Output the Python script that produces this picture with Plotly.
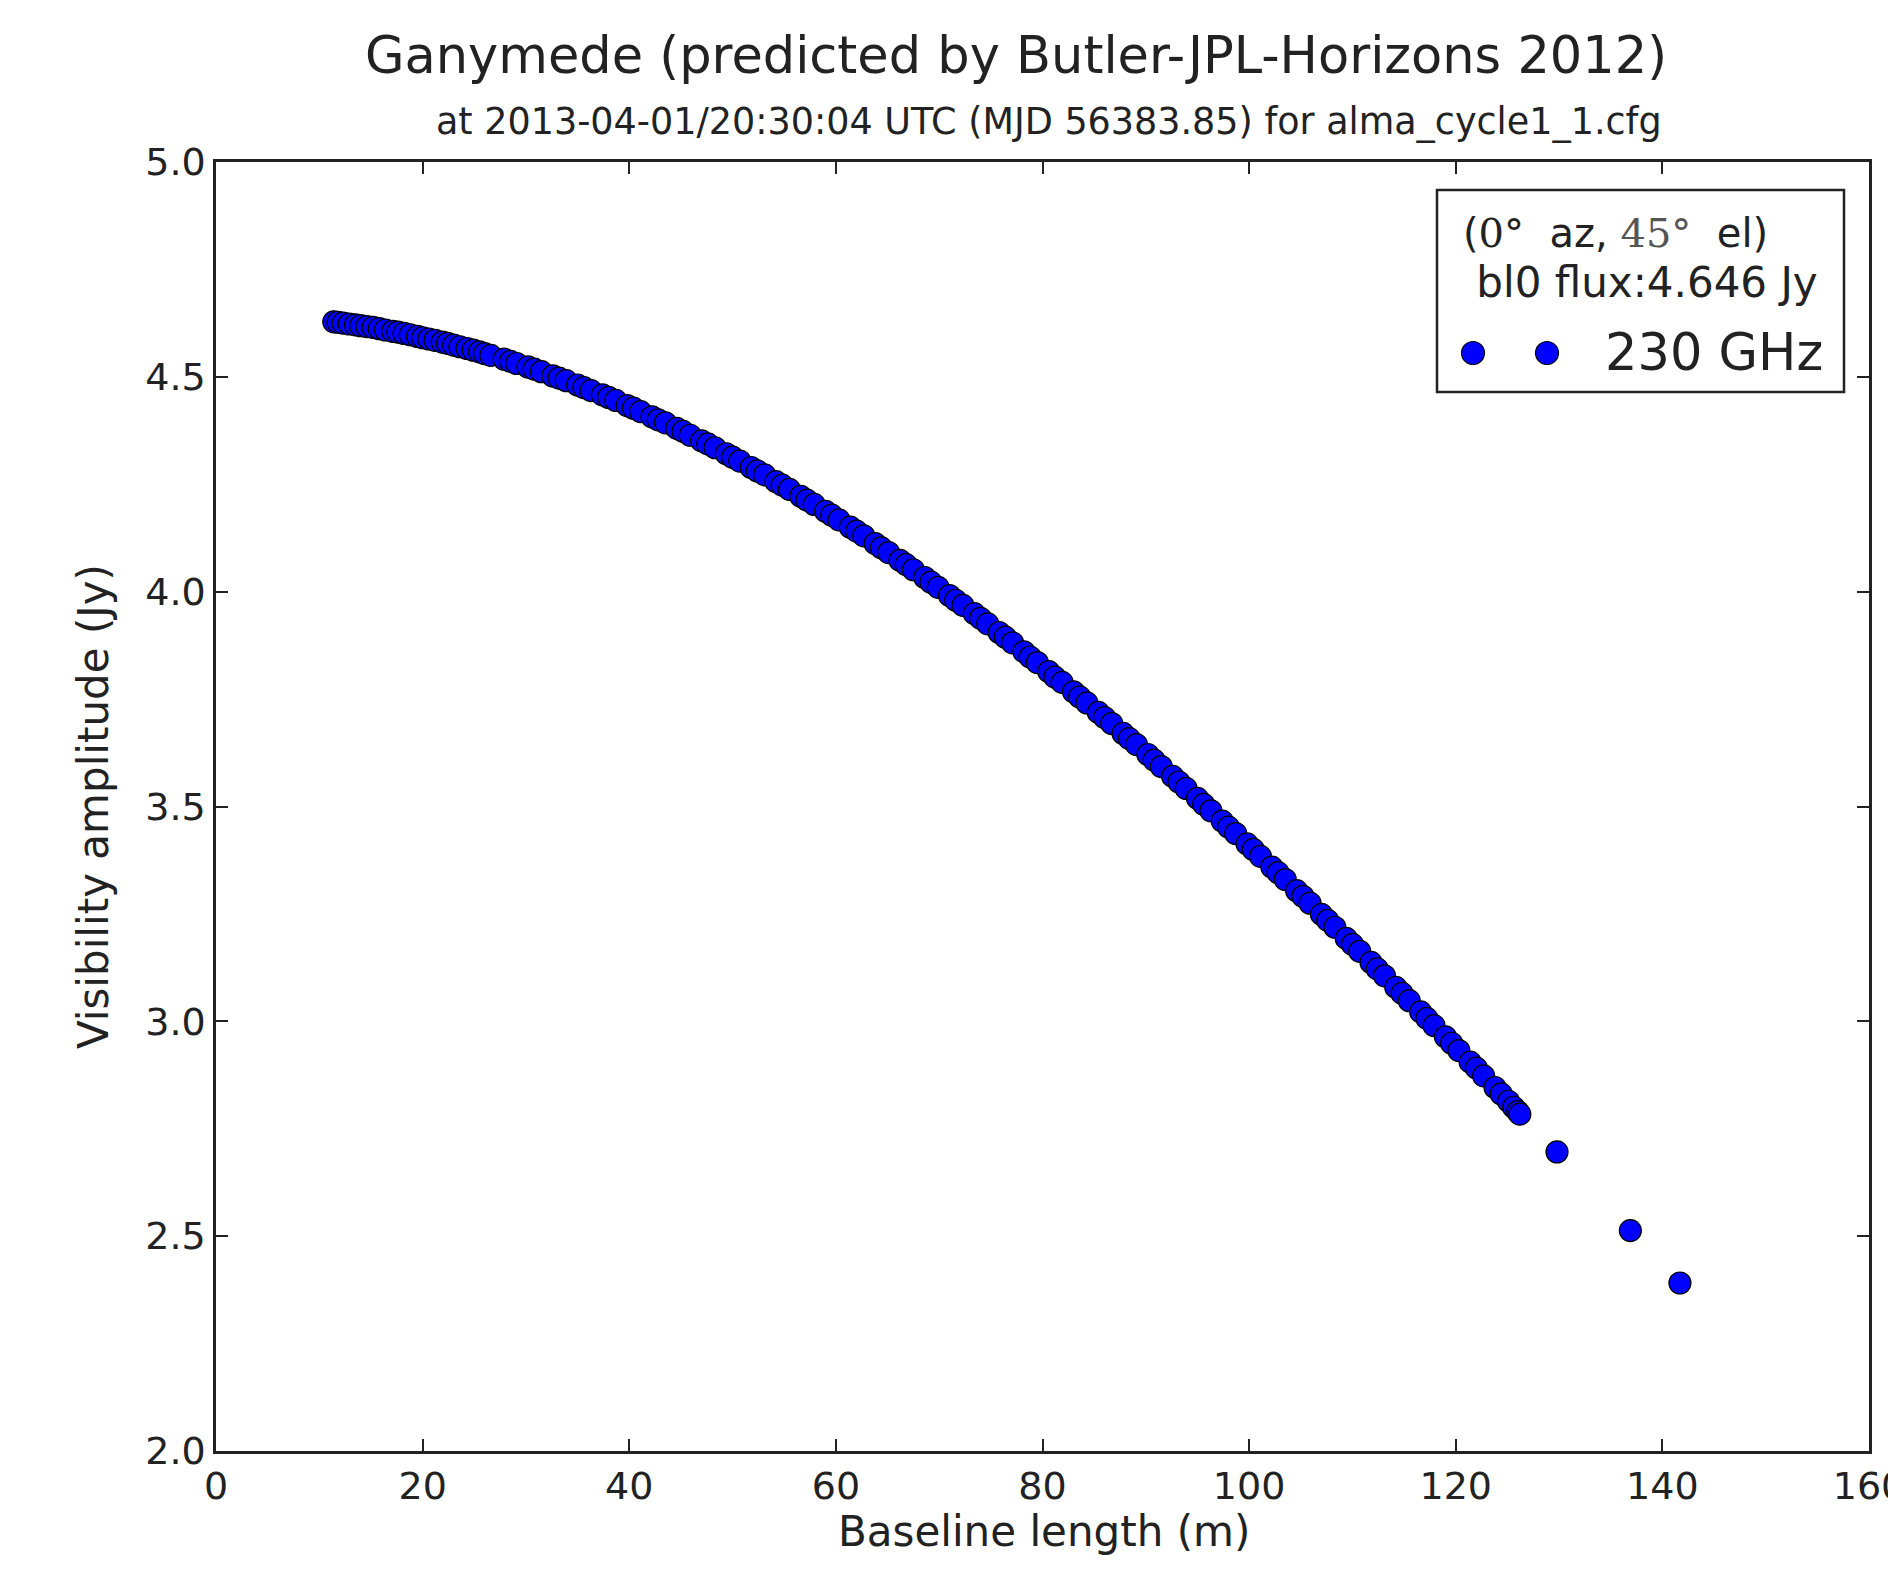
import plotly.graph_objects as go

# ---- data ----
baseline_m = [11.4, 12.3, 13.5, 14.6, 15.8, 17.1, 18.2, 19.5, 20.6, 21.9, 23.0, 24.3,
              25.5, 26.6, 27.9, 29.1, 30.2, 31.5, 32.6, 33.9, 35.0, 36.3, 37.4, 38.7,
              39.8, 41.1, 42.2, 43.5, 44.6, 45.9, 47.0, 48.3, 49.4, 50.7, 51.8, 53.1,
              54.2, 55.5, 56.6, 57.9, 59.0, 60.3, 61.4, 62.7, 63.8, 65.1, 66.2, 67.5,
              68.6, 69.9, 71.0, 72.3, 73.4, 74.7, 75.8, 77.1, 78.2, 79.5, 80.6, 81.9,
              83.0, 84.3, 85.4, 86.7, 87.8, 89.1, 90.2, 91.5, 92.6, 93.9, 95.0, 96.3,
              97.4, 98.7, 99.8, 101.1, 102.2, 103.5, 104.6, 105.9, 107.0, 108.3, 109.4, 110.7,
              111.8, 113.1, 114.2, 115.5, 116.6, 117.9, 119.0, 120.3, 121.4, 122.7, 123.8, 125.1,
              126.2, 129.8, 136.9, 141.7]
amplitude_jy = [4.628, 4.625, 4.621, 4.617, 4.612, 4.606, 4.601, 4.594, 4.588, 4.581, 4.574, 4.566,
                4.558, 4.550, 4.541, 4.531, 4.523, 4.512, 4.502, 4.491, 4.481, 4.468, 4.458, 4.445,
                4.433, 4.419, 4.407, 4.393, 4.380, 4.364, 4.351, 4.335, 4.321, 4.304, 4.289, 4.272,
                4.256, 4.238, 4.222, 4.203, 4.187, 4.167, 4.150, 4.130, 4.112, 4.091, 4.073, 4.051,
                4.033, 4.010, 3.991, 3.968, 3.949, 3.925, 3.905, 3.881, 3.860, 3.835, 3.814, 3.789,
                3.767, 3.741, 3.719, 3.693, 3.670, 3.644, 3.621, 3.593, 3.570, 3.542, 3.519, 3.490,
                3.466, 3.437, 3.413, 3.384, 3.359, 3.330, 3.304, 3.275, 3.249, 3.219, 3.193, 3.163,
                3.137, 3.106, 3.079, 3.048, 3.022, 2.990, 2.964, 2.932, 2.905, 2.873, 2.846, 2.814,
                2.784, 2.696, 2.513, 2.391]

# further baselines packed in between (the band is dense in the picture)
baseline_m_more = [11.8, 12.9, 14.0, 15.2, 16.4, 17.6, 18.8, 20.0, 21.2, 22.4, 23.6, 24.9,
                   26.0, 28.5, 30.8, 33.2, 35.6, 38.0, 40.4, 42.8, 45.2, 47.6, 50.0, 52.4,
                   54.8, 57.2, 59.6, 62.0, 64.4, 66.8, 69.2, 71.6, 74.0, 76.4, 78.8, 81.2,
                   83.6, 86.0, 88.4, 90.8, 93.2, 95.6, 98.0, 100.4, 102.8, 105.2, 107.6, 110.0,
                   112.4, 114.8, 117.2, 119.6, 122.0, 124.4, 125.6, 126.0]
amplitude_jy_more = [4.627, 4.623, 4.619, 4.615, 4.609, 4.604, 4.598, 4.591, 4.585, 4.578, 4.570, 4.562,
                     4.554, 4.536, 4.518, 4.497, 4.475, 4.452, 4.427, 4.400, 4.373, 4.344, 4.313, 4.281,
                     4.248, 4.213, 4.178, 4.141, 4.102, 4.063, 4.022, 3.980, 3.938, 3.894, 3.848, 3.801,
                     3.755, 3.707, 3.658, 3.608, 3.557, 3.505, 3.452, 3.400, 3.346, 3.291, 3.235, 3.179,
                     3.122, 3.065, 3.007, 2.949, 2.891, 2.831, 2.800, 2.790]

x_ticks = [0, 20, 40, 60, 80, 100, 120, 140, 160]
y_ticks = [2.0, 2.5, 3.0, 3.5, 4.0, 4.5, 5.0]

title_text = "Ganymede (predicted by Butler-JPL-Horizons 2012)"
subtitle_text = "at 2013-04-01/20:30:04 UTC (MJD 56383.85) for alma_cycle1_1.cfg"
series_name = "230 GHz"
flux_text = "\u00a0bl0 flux:4.646 Jy"

FONT = "DejaVu Sans, Bitstream Vera Sans, sans-serif"

pts = sorted(zip(baseline_m + baseline_m_more, amplitude_jy + amplitude_jy_more))
xs = [p[0] for p in pts]
ys = [p[1] for p in pts]

fig = go.Figure()
fig.add_trace(go.Scatter(
    x=xs, y=ys, mode="markers", name=series_name,
    marker=dict(size=22, color="#0000ff", line=dict(color="black", width=1.2)),
    showlegend=False,
))

axis_common = dict(
    showline=True, linecolor="#222222", linewidth=2.5, mirror="ticks",
    ticks="inside", ticklen=12, tickwidth=1.5, tickcolor="#222222",
    showgrid=False, zeroline=False, ticklabeloverflow="allow", automargin=False,
    tickfont=dict(family=FONT, size=38, color="#222222"),
)

# page has an 8px body margin; plot area (page px) x 216..1869, y 162..1451
fig.update_layout(
    width=1896, height=1592,
    margin=dict(l=208, r=35, t=154, b=149),
    paper_bgcolor="white", plot_bgcolor="white",
    xaxis=dict(range=[0, 160], tickvals=x_ticks, ticktext=[str(v) for v in x_ticks], **axis_common),
    yaxis=dict(range=[2, 5], tickvals=y_ticks, ticktext=[f"{v:.1f}" for v in y_ticks], **axis_common),
    showlegend=False,
)

def px(xp):
    return (xp - 216) / 1653.0

def py(yp):
    return (1451 - yp) / 1289.0

ann = []
ann.append(dict(text=title_text, x=px(1016), y=py(56), xref="paper", yref="paper",
                xanchor="center", yanchor="middle", showarrow=False,
                font=dict(family=FONT, size=51, color="#222222")))
ann.append(dict(text=subtitle_text, x=px(1049), y=py(122), xref="paper", yref="paper",
                xanchor="center", yanchor="middle", showarrow=False,
                font=dict(family=FONT, size=36.5, color="#222222")))
ann.append(dict(text="Baseline length (m)", x=px(1044), y=py(1531), xref="paper", yref="paper",
                xanchor="center", yanchor="middle", showarrow=False,
                font=dict(family=FONT, size=42, color="#222222")))
ann.append(dict(text="Visibility amplitude (Jy)", x=px(93), y=py(807), xref="paper", yref="paper",
                xanchor="center", yanchor="middle", showarrow=False, textangle=-90,
                font=dict(family=FONT, size=42, color="#222222")))

line1 = ("(<span style='font-family:DejaVu Serif'>0\u00b0</span>\u00a0\u00a0az, "
         "<span style='font-family:DejaVu Serif;color:#555555'>45\u00b0</span>\u00a0\u00a0el)")
ann.append(dict(text=line1, x=px(1461), y=py(233), xref="paper", yref="paper",
                xanchor="left", yanchor="middle", showarrow=False,
                font=dict(family=FONT, size=40, color="#222222")))
ann.append(dict(text=flux_text, x=px(1461), y=py(282), xref="paper", yref="paper",
                xanchor="left", yanchor="middle", showarrow=False,
                font=dict(family=FONT, size=42, color="#222222")))
ann.append(dict(text=series_name, x=px(1603), y=py(352), xref="paper", yref="paper",
                xanchor="left", yanchor="middle", showarrow=False,
                font=dict(family=FONT, size=51, color="#222222")))

shapes = [dict(type="rect", xref="paper", yref="paper",
               x0=px(1437), x1=px(1844), y0=py(392), y1=py(190),
               line=dict(color="#222222", width=2.5), fillcolor="white", layer="above")]
for cx in (1473, 1547):
    shapes.append(dict(type="circle", xref="paper", yref="paper",
                       xsizemode="pixel", ysizemode="pixel",
                       xanchor=px(cx), yanchor=py(353),
                       x0=-11.5, x1=11.5, y0=-11.5, y1=11.5,
                       fillcolor="#0000ff", line=dict(color="black", width=1.2), layer="above"))

fig.update_layout(annotations=ann, shapes=shapes)
fig.write_html("out.html")
